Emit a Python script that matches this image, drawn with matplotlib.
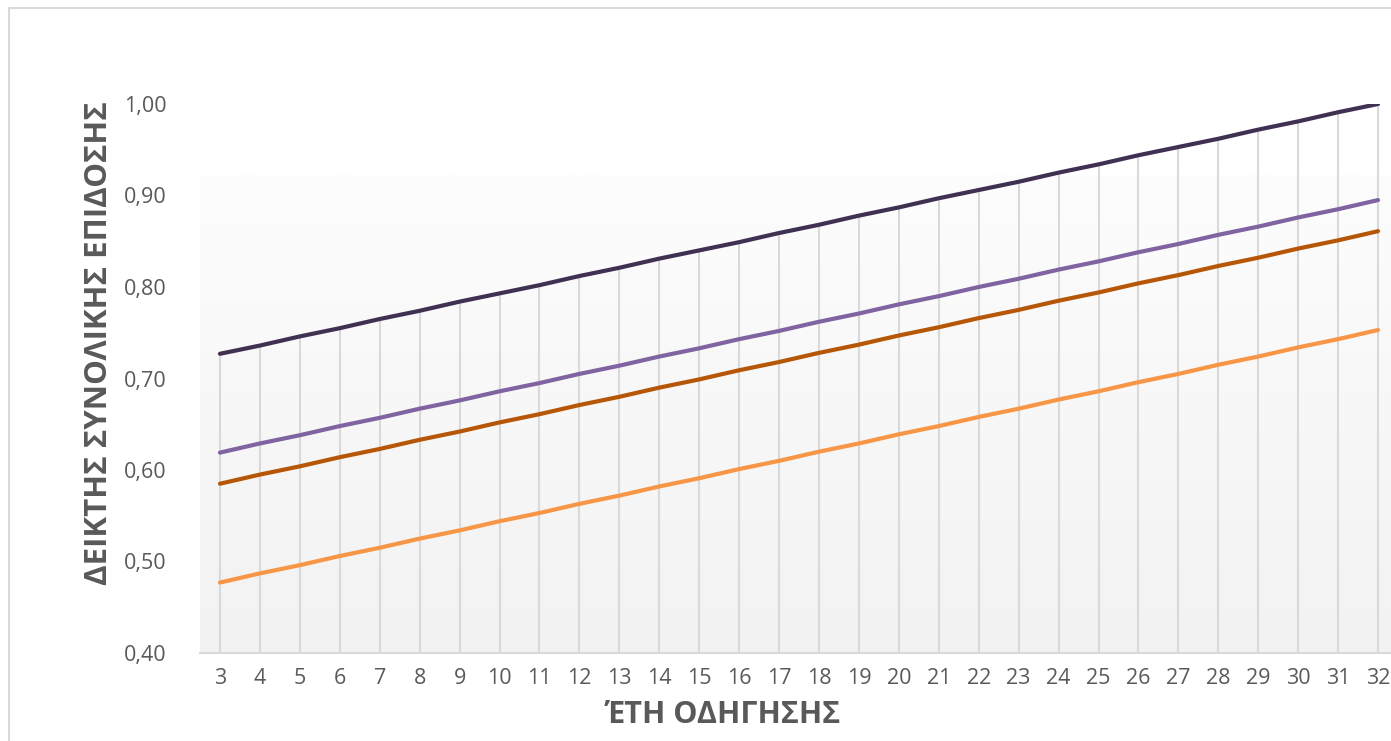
import matplotlib.pyplot as plt
import numpy as np
from matplotlib.colors import LinearSegmentedColormap
from matplotlib.patches import Rectangle
from matplotlib.ticker import FuncFormatter

# years of driving (categories on x axis)
years = list(range(3, 33))

# overall performance index
series_dark = [0.727, 0.736, 0.746, 0.755, 0.765, 0.774, 0.784, 0.793, 0.802, 0.812,
               0.821, 0.831, 0.840, 0.849, 0.859, 0.868, 0.878, 0.887, 0.897, 0.906,
               0.915, 0.925, 0.934, 0.944, 0.953, 0.962, 0.972, 0.981, 0.991, 1.000]
series_purple = [0.619, 0.629, 0.638, 0.648, 0.657, 0.667, 0.676, 0.686, 0.695, 0.705,
                 0.714, 0.724, 0.733, 0.743, 0.752, 0.762, 0.771, 0.781, 0.790, 0.800,
                 0.809, 0.819, 0.828, 0.838, 0.847, 0.857, 0.866, 0.876, 0.885, 0.895]
series_brown = [0.585, 0.595, 0.604, 0.614, 0.623, 0.633, 0.642, 0.652, 0.661, 0.671,
                0.680, 0.690, 0.699, 0.709, 0.718, 0.728, 0.737, 0.747, 0.756, 0.766,
                0.775, 0.785, 0.794, 0.804, 0.813, 0.823, 0.832, 0.842, 0.851, 0.861]
series_orange = [0.477, 0.487, 0.496, 0.506, 0.515, 0.525, 0.534, 0.544, 0.553, 0.563,
                 0.572, 0.582, 0.591, 0.601, 0.610, 0.620, 0.629, 0.639, 0.648, 0.658,
                 0.667, 0.677, 0.686, 0.696, 0.705, 0.715, 0.724, 0.734, 0.743, 0.753]

y_ticks = [0.40, 0.50, 0.60, 0.70, 0.80, 0.90, 1.00]

plt.rcParams['font.family'] = ['Open Sans', 'DejaVu Sans']
txt = '#595959'
grid = '#d9d9d9'

W, H = 1391, 741
fig = plt.figure(figsize=(W / 100, H / 100), dpi=100)
fig.patch.set_facecolor('white')

# chart frame (runs off the right and bottom edge like the source)
fig.patches.append(Rectangle((9 / W, -0.1), 1.2, (H - 8) / H + 0.1, transform=fig.transFigure,
                             fill=False, edgecolor=grid, linewidth=1.5))

ax = fig.add_axes([200 / W, (H - 653) / H, 1198 / W, 549 / H])
ax.set_xlim(2.5, 32.5)
ax.set_ylim(0.40, 1.00)

# soft vertical gradient in the lower part of the plot area
grad = np.linspace(0.0, 1.0, 256).reshape(-1, 1)
ax.imshow(grad, extent=[2.5, 32.5, 0.40, 0.922], aspect='auto', origin='lower',
          cmap=LinearSegmentedColormap.from_list('g', ['#f2f2f2', '#fdfdfd']), zorder=0)

# drop lines from the top series down to the axis
ax.vlines(years, 0.40, series_dark, color=grid, linewidth=1.5, zorder=1)

lw = 3.0
ax.plot(years, series_orange, color='#f79646', linewidth=lw, solid_capstyle='round', zorder=3)
ax.plot(years, series_brown, color='#b65708', linewidth=lw, solid_capstyle='round', zorder=3)
ax.plot(years, series_purple, color='#8064a2', linewidth=lw, solid_capstyle='round', zorder=3)
ax.plot(years, series_dark, color='#403152', linewidth=lw, solid_capstyle='round', zorder=3)

for s in ['top', 'right', 'left']:
    ax.spines[s].set_visible(False)
ax.spines['bottom'].set_color(grid)
ax.spines['bottom'].set_linewidth(1.5)

ax.set_xticks(years)
ax.set_yticks(y_ticks)
ax.yaxis.set_major_formatter(FuncFormatter(lambda v, p: f'{v:.2f}'.replace('.', ',')))
ax.tick_params(axis='both', length=0, colors=txt, labelsize=15.5)
ax.tick_params(axis='y', pad=24)
ax.tick_params(axis='x', pad=11)

fig.text(723 / W, 1 - 715 / H, 'ΈΤΗ ΟΔΗΓΗΣΗΣ', ha='center', va='center',
         fontsize=22, fontweight='bold', color=txt)
fig.text(99 / W, 1 - 343 / H, 'ΔΕΙΚΤΗΣ ΣΥΝΟΛΙΚΗΣ ΕΠΙΔΟΣΗΣ', ha='center', va='center',
         rotation=90, fontsize=22.5, fontweight='bold', color=txt)

fig.savefig('out.png', dpi=100)
